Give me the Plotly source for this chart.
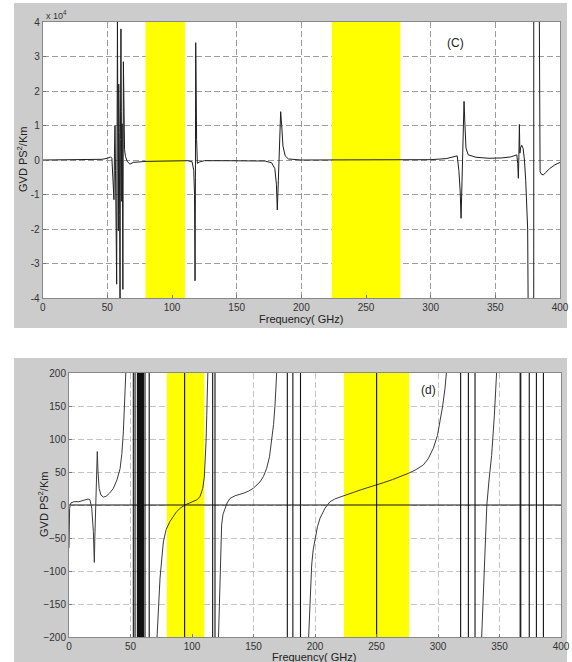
import plotly.graph_objects as go

# ---------------- data ----------------
# Panel (C): GVD in units of 1e4 ps^2/km
top_freq = [0, 10, 20, 30, 40, 46, 50, 52.5, 53.5, 54.3, 55.1, 55.5, 55.9, 56.3, 56.7, 57.2,
            57.5, 57.8, 58.1, 58.5, 58.8, 59.2, 59.5, 59.8, 60.1, 60.5, 60.8, 61.1, 61.4,
            61.7, 62.0, 62.4, 62.8, 63.3, 64, 65.5, 67.5, 70, 80, 100, 112, 115.5, 116.8,
            117.4, 117.8, 118.1, 118.3, 118.6, 119.0, 119.6, 121, 125, 140, 160, 172, 177,
            179.5, 180.7, 181.4, 182.2, 183.2, 184.0, 184.8, 185.8, 187.5, 190, 200, 250,
            300, 312, 318, 320.5, 321.8, 322.8, 323.5, 324.3, 325.1, 325.8, 326.4, 327.3,
            329, 335, 345, 355, 362, 366.6, 367.3, 367.8, 368.2, 368.6, 369.0, 369.5, 370.4,
            371.5, 372.5, 373.5, 375.0, 376.3, 378, 379.6, 379.8, 382, 383.8, 384.6, 385.8,
            387.2, 389, 392, 396, 400]
top_gvd = [0, 0, 0, 0, 0.01, 0.02, 0.05, 0.09, 0.05, -0.4, -1.15, 0.2, 1.0, -0.3, -1.6, -3.6,
           0.5, 4.0, 1.2, -2.05, 2.2, 0.8, -1.6, -4.0, 0.6, 3.8, 1.4, -1.2, 1.05,
           -0.9, -3.75, 2.85, 0.9, 0.3, 0.1, -0.05, -0.12, -0.07, -0.04, -0.03, -0.02, -0.05, -0.3,
           -1.0, -3.5, -0.5, 3.4, 2.35, 0.6, -0.1, -0.06, -0.02, -0.02, -0.02, -0.03, -0.08,
           -0.25, -0.7, -1.45, -0.6, 0.5, 1.4, 1.0, 0.4, 0.12, 0.03, 0.0, 0.0,
           0.01, 0.04, 0.09, 0.12, -0.3, -0.9, -1.69, -0.6, 0.7, 1.7, 1.1, 0.35,
           0.15, 0.08, 0.05, 0.06, 0.09, 0.15, -0.1, -0.53, 0.1, 1.03, 0.2, 0.35, 0.43,
           0.33, 0.0, -0.6, -2.0, -4.3, -20, -40, 40, 20, 4.3, -0.34, -0.42,
           -0.43, -0.36, -0.25, -0.14, -0.07]

# Panel (d): GVD in ps^2/km, one list per branch between poles
branch1_freq = [0, 0.5, 1.5, 4, 8, 12, 15.5, 17, 18.5, 19.8, 20.6, 21.0, 21.6, 22.3, 23.0,
                23.6, 24.5, 26, 28, 30, 33, 36, 39, 41.5, 43, 44.2, 45.3, 46.1, 46.5]
branch1_gvd = [-65, -5, 3, 5, 5, 7, 9, 8, -5, -40, -87, -50, -5, 40, 81,
               50, 25, 15, 12, 13, 18, 25, 38, 55, 78, 111, 150, 197, 215]

branch2_freq = [71.3, 74, 76.7, 79, 82.1, 87.5, 91, 94.3, 98, 101, 104, 106.5, 108.7, 110,
                110.6, 111.4, 112, 112.8, 113]
branch2_gvd = [-210, -111, -56, -37, -25, -10, -4, 0, 3, 5, 8, 12.6, 25, 42,
               60, 95, 136, 197, 210]

branch3_freq = [121.4, 122.8, 124.1, 125.2, 126.8, 128.5, 130.9, 135, 141.7, 146, 149.8,
                155.3, 158, 160.7, 163, 164.8, 166.3, 167.5, 168.8, 169.1]
branch3_gvd = [-210, -91, -30, -14, -5, 3, 10, 14, 17.7, 21, 25.3,
               35, 43, 55.5, 73, 96, 122, 151.5, 197, 210]

branch4_freq = [194.6, 196, 197.3, 198.5, 200, 202, 204.1, 208.1, 212.2, 216, 220.3, 225.8,
                231.1, 238, 244.7, 250.2, 256, 263, 270, 275.9, 282, 288, 292, 296.2,
                299.5, 301.6, 303.8, 305.7, 307, 307.3]
branch4_gvd = [-210, -141, -91, -68, -50, -33, -20, -5, 5, 9, 12, 15,
               19, 23.5, 27, 30.3, 34, 38.5, 43.5, 48, 53.5, 60.6, 70, 86,
               105, 126, 150, 177, 200, 210]

branch5_freq = [335.3, 335.5, 337.4, 339.7, 341.5, 343.6, 345.8, 347.7, 347.9]
branch5_gvd = [-210, -200, -93, 0, 38, 75, 135, 200, 210]

pole_freqs = [52.3, 53.7, 55.6, 55.95, 56.3, 56.65, 57.0, 57.35, 57.7, 58.05, 58.4, 58.75,
              59.1, 59.45, 59.8, 60.15, 60.5, 61.8, 65.2, 94.0, 116.8, 118.7, 177.5,
              182.0, 188.2, 250.1, 318.4, 324.7, 330.1, 366.8, 367.3, 374.2, 380.0, 385.7]

bands = [(79.5, 110.0), (223.5, 276.5)]

top_yticks = [-4, -3, -2, -1, 0, 1, 2, 3, 4]
bot_yticks = [-200, -150, -100, -50, 0, 50, 100, 150, 200]
x_ticks = [0, 50, 100, 150, 200, 250, 300, 350, 400]

# ---------------- figure ----------------
W, H = 572, 662
def px(x):
    return x / W
def py(y):
    return (H - y) / H

# plot-area boxes in pixels: (left, top, right, bottom)
box1 = (42.7, 22, 560, 298)
box2 = (69, 373, 561, 637)

fig = go.Figure()

yr1 = (top_yticks[0], top_yticks[-1])
yr2 = (bot_yticks[0], bot_yticks[-1])

# yellow bands (drawn as filled traces so they sit above the grid)
for xa, ya, yr in [("x", "y", yr1), ("x2", "y2", yr2)]:
    for b0, b1 in bands:
        fig.add_trace(go.Scatter(x=[b0, b1, b1, b0, b0], y=[yr[0], yr[0], yr[1], yr[1], yr[0]],
                                 mode="lines", fill="toself", fillcolor="#ffff00",
                                 line=dict(width=0, color="#ffff00"), xaxis=xa, yaxis=ya,
                                 showlegend=False, hoverinfo="skip"))

# zero line of panel (d)
fig.add_trace(go.Scatter(x=[x_ticks[0], x_ticks[-1]], y=[0, 0], mode="lines",
                         line=dict(color="#111111", width=1.2), xaxis="x2", yaxis="y2",
                         showlegend=False, hoverinfo="skip"))

fig.add_trace(go.Scatter(x=top_freq, y=top_gvd, mode="lines",
                         line=dict(color="#1e1e1e", width=1), xaxis="x", yaxis="y",
                         showlegend=False, hoverinfo="skip"))

bx, by = [], []
for f, v in [(branch1_freq, branch1_gvd), (branch2_freq, branch2_gvd),
             (branch3_freq, branch3_gvd), (branch4_freq, branch4_gvd),
             (branch5_freq, branch5_gvd)]:
    bx += list(f) + [None]
    by += list(v) + [None]
fig.add_trace(go.Scatter(x=bx, y=by, mode="lines", line=dict(color="#3a3a3a", width=1),
                         xaxis="x2", yaxis="y2", showlegend=False, hoverinfo="skip"))

plx, ply = [], []
for p in pole_freqs:
    plx += [p, p, None]
    ply += [yr2[0], yr2[1], None]
fig.add_trace(go.Scatter(x=plx, y=ply, mode="lines", line=dict(color="#111111", width=1.1),
                         xaxis="x2", yaxis="y2", showlegend=False, hoverinfo="skip"))

shapes = []
# grey figure backgrounds (MATLAB style) and white axes areas on top of them
shapes.append(dict(type="rect", xref="paper", yref="paper", x0=px(14), x1=px(567),
                   y0=py(328), y1=py(3), fillcolor="#cccccc", line=dict(width=0), layer="below"))
shapes.append(dict(type="rect", xref="paper", yref="paper", x0=px(14), x1=px(567),
                   y0=0, y1=py(358), fillcolor="#cccccc", line=dict(width=0), layer="below"))
for (l, t, r, b) in (box1, box2):
    shapes.append(dict(type="rect", xref="paper", yref="paper", x0=px(l), x1=px(r),
                       y0=py(b), y1=py(t), fillcolor="#ffffff", line=dict(width=0),
                       layer="below"))

font = "Arial, Liberation Sans, sans-serif"
tickfont = dict(family=font, size=10, color="#333333")

common_x = dict(range=[x_ticks[0], x_ticks[-1]], tickvals=x_ticks, ticks="inside", ticklen=3,
                tickcolor="#777777", showline=True, mirror=True, linecolor="#888888",
                linewidth=1, showgrid=True, zeroline=False, tickfont=tickfont,
                automargin=False)

fig.update_layout(
    width=W, height=H, margin=dict(l=0, r=0, t=0, b=0, autoexpand=False),
    paper_bgcolor="white", plot_bgcolor="rgba(0,0,0,0)", showlegend=False,
    xaxis=dict(domain=[px(box1[0]), px(box1[2])], anchor="y", gridcolor="#9c9c9c",
               griddash="6px,3px", **common_x),
    yaxis=dict(domain=[py(box1[3]), py(box1[1])], anchor="x", range=list(yr1),
               tickvals=top_yticks, ticktext=[str(t) for t in top_yticks], ticks="inside",
               ticklen=3, tickcolor="#777777", showline=True, mirror=True,
               linecolor="#888888", showgrid=True, gridcolor="#9c9c9c", griddash="6px,3px",
               zeroline=False, tickfont=tickfont, automargin=False),
    xaxis2=dict(domain=[px(box2[0]), px(box2[2])], anchor="y2", gridcolor="#c4c4c4",
                griddash="6px,3px", **common_x),
    yaxis2=dict(domain=[py(box2[3]), py(box2[1])], anchor="x2", range=list(yr2),
                tickvals=bot_yticks, ticks="inside", ticklen=3, tickcolor="#777777",
                showline=True, mirror=True, linecolor="#888888", showgrid=True,
                gridcolor="#c4c4c4", griddash="6px,3px", zeroline=False, tickfont=tickfont,
                automargin=False),
    shapes=shapes,
)

ann = []
ann.append(dict(text="x 10<sup>4</sup>", xref="paper", yref="paper", x=px(44), y=py(15),
                xanchor="left", yanchor="middle", showarrow=False,
                font=dict(family=font, size=9, color="#333333")))
ann.append(dict(text="GVD PS<sup>2</sup>/Km", xref="paper", yref="paper", x=px(22), y=py(160),
                textangle=-90, showarrow=False, xanchor="center", yanchor="middle",
                font=dict(family=font, size=11, color="#222222")))
ann.append(dict(text="GVD PS<sup>2</sup>/Km", xref="paper", yref="paper", x=px(43), y=py(505),
                textangle=-90, showarrow=False, xanchor="center", yanchor="middle",
                font=dict(family=font, size=11, color="#222222")))
ann.append(dict(text="Frequency( GHz)", xref="paper", yref="paper", x=px(301), y=py(319),
                showarrow=False, xanchor="center", yanchor="middle",
                font=dict(family=font, size=11, color="#222222")))
ann.append(dict(text="Frequency( GHz)", xref="paper", yref="paper", x=px(314), y=py(657),
                showarrow=False, xanchor="center", yanchor="middle",
                font=dict(family=font, size=11, color="#222222")))
ann.append(dict(text="(C)", xref="x", yref="y", x=319, y=3.4, showarrow=False,
                font=dict(family=font, size=12, color="#222222")))
ann.append(dict(text="(d)", xref="x2", yref="y2", x=292, y=174, showarrow=False,
                font=dict(family=font, size=12, color="#222222")))
fig.update_layout(annotations=ann)

fig.write_html("out.html")
